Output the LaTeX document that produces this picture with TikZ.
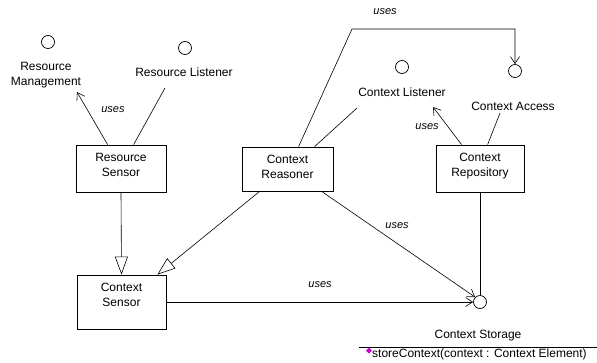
\documentclass[tikz,border=0pt]{standalone}
\usepackage{fontspec}
\setmainfont{Liberation Sans}
\usetikzlibrary{arrows.meta,calc}
\definecolor{opmag}{RGB}{200,0,200}
\begin{document}
\begin{tikzpicture}[x=1pt,y=-1pt,
  every node/.style={font=\fontsize{12}{15}\selectfont, inner sep=0pt},
  cls/.style={draw, line width=0.8pt, inner sep=0pt},
  clstext/.style={anchor=north, align=center, yshift=-8pt},
  iface/.style={circle, draw, line width=0.7pt, minimum size=13pt, inner sep=0pt},
  conn/.style={line width=0.6pt},
  uses/.style={conn, -{Straight Barb[length=7pt,width=9pt]}},
  gen/.style={conn, -{Triangle[open,length=18pt,width=13pt,fill=white]}},
  usesl/.style={font=\fontsize{11}{13}\selectfont\itshape}]
\useasboundingbox (0,0) rectangle (597,362);

% interfaces
\node[iface] (rmc) at (48,42) {};
\node[align=center] (rml) at (46,75) {Resource\\Management};
\node[iface] (rlc) at (185,48) {};
\node (rll) at (184,72) {Resource Listener};
\node[iface] (clc) at (402,67) {};
\node (cll) at (402,92) {Context Listener};
\node[iface] (cac) at (515,71) {};
\node (cal) at (513,106) {Context Access};
\node[iface] (csc) at (480,302) {};
\node (csl) at (478,336) {Context Storage};

% classes
\node[cls, minimum width=90pt, minimum height=47pt,
      label={[clstext]north:Resource\\Sensor}] (rs) at (121,168.5) {};
\node[cls, minimum width=91pt, minimum height=44pt,
      label={[clstext]north:Context\\Reasoner}] (cr) at (287.5,169) {};
\node[cls, minimum width=88pt, minimum height=47pt,
      label={[clstext]north:Context\\Repository}] (crep) at (480,168.5) {};
\node[cls, minimum width=89pt, minimum height=54pt,
      label={[clstext]north:Context\\Sensor}] (cs) at (121.5,302) {};

% free ends
\coordinate (rmend) at (77,92);
\coordinate (rlend) at (165,88);
\coordinate (clend) at (357,108);
\coordinate (clarr) at (433,107);
\coordinate (caend) at (500,113);
\coordinate (bend1) at (352,29);
\coordinate (bend2) at (515,29);

% connectors
\draw[uses] ($(rs.north west)+(32,0)$) -- (rmend);
\node[usesl] (u1) at (113,110) {uses};
\draw[conn] ($(rs.north west)+(58,0)$) -- (rlend);

\draw[uses] ($(cr.north west)+(57,0)$) -- (bend1) -- (bend2) -- (cac.north);
\node[usesl] (u2) at (385,12) {uses};
\draw[conn] ($(cr.north west)+(73,0)$) -- (clend);

\draw[uses] ($(crep.north west)+(26,0)$) -- (clarr);
\node[usesl] (u3) at (427,127) {uses};
\draw[conn] ($(crep.north west)+(52,0)$) -- (caend);

\draw[gen] (rs.south) -- (cs.north);
\draw[gen] ($(cr.south west)+(18,0)$) -- ($(cs.north east)+(-9,0)$);

\draw[uses] (cs.east) -- (csc.west);
\node[usesl] (u4) at (320,285) {uses};
\draw[uses] ($(cr.south west)+(80,0)$) -- (csc.north west);
\node[usesl] (u5) at (397,226) {uses};
\draw[conn] (crep.south) -- (csc.north);

% operations compartment
\coordinate (opl) at (359,347);
\coordinate (opr) at (597,347);
\draw[conn] (opl) -- (opr);
\fill[opmag] (369,347.5) -- (372,350.5) -- (369,353.5) -- (366,350.5) -- cycle;
\node[anchor=base west] (op) at (372,357) {storeContext(context : Context Element)};
\end{tikzpicture}
\end{document}
